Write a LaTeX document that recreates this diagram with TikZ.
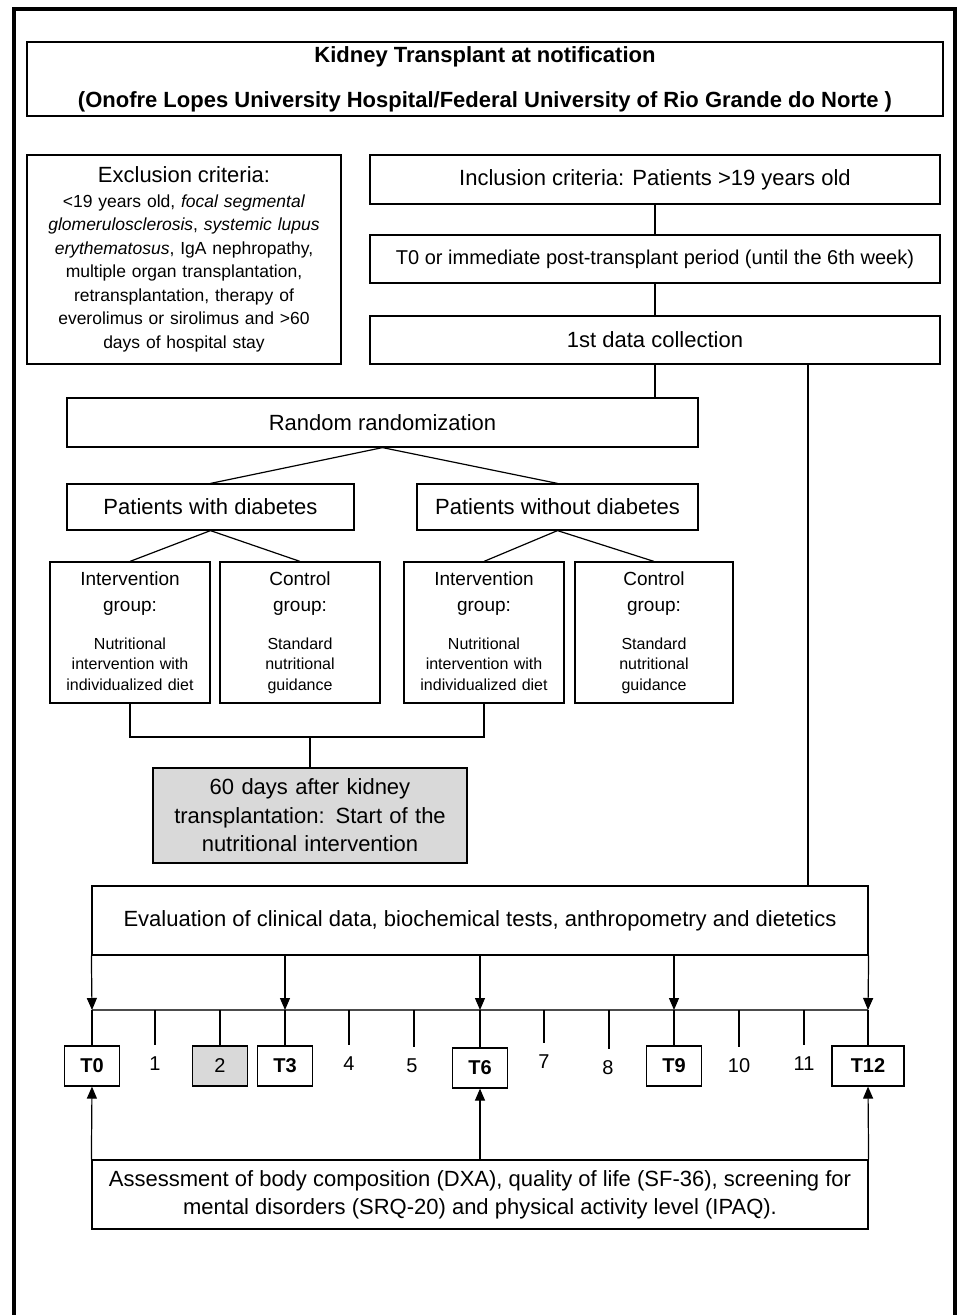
\documentclass[tikz,border=0pt]{standalone}
\usepackage{fontspec}
\setmainfont{Liberation Sans}
\usepackage{tikz}
\usetikzlibrary{arrows.meta}
\definecolor{boxgray}{rgb}{0.85,0.85,0.85}

\begin{document}
\begin{tikzpicture}[x=1pt, y=-1pt,
  blk/.style={draw, rectangle, line width=1.2pt, inner sep=0pt, align=center},
  ln/.style={line width=1.2pt},
  arr/.style={->, >={Triangle[length=12pt,width=10pt]}, line width=1.2pt},
  num/.style={inner sep=0pt, minimum height=38pt, font=\fontsize{20}{22}\selectfont},
  tbox/.style={draw, rectangle, line width=1.2pt, minimum width=55pt, minimum height=40pt, inner sep=0pt, font=\bfseries\fontsize{20}{22}\selectfont}]
\useasboundingbox (0,0) rectangle (959,1315);
\draw [line width=4pt] (14,1315) -- (14,8.5) -- (955,8.5) -- (955,1315);

\node[blk, minimum width=916pt, minimum height=74pt, font=\bfseries\fontsize{22}{24}\selectfont] (title) at (485,79) {Kidney Transplant at notification\\[21pt](Onofre Lopes University Hospital/Federal University of Rio Grande do Norte )};

% left column
\node[blk, minimum width=314pt, minimum height=209pt, text width=310pt, font=\fontsize{17.5}{23.5}\selectfont] (excl) at (184,259.5) {{\fontsize{22}{24}\selectfont Exclusion criteria:}\\[1pt]
<19 years old, \textit{focal segmental}\\ \textit{glomerulosclerosis}, \textit{systemic lupus}\\ \textit{erythematosus}, IgA nephropathy,\\ multiple organ transplantation,\\ retransplantation, therapy of\\ everolimus or sirolimus and >60\\ days of hospital stay};

% right column
\node[blk, minimum width=570pt, minimum height=49pt, font=\fontsize{22}{24}\selectfont] (incl) at (655,179.5) {Inclusion criteria: Patients >19 years old};
\node[blk, minimum width=570pt, minimum height=48pt, font=\fontsize{20}{22}\selectfont] (post) at (655,259) {T0 or immediate post-transplant period (until the 6th week)};
\node[blk, minimum width=570pt, minimum height=48pt, font=\fontsize{22}{24}\selectfont] (coll) at (655,340) {1st data collection};
\draw [ln] (incl) -- (post);
\draw [ln] (post) -- (coll);
\coordinate (side) at (808,364);

% randomization
\node[blk, minimum width=631pt, minimum height=49pt, font=\fontsize{22}{24}\selectfont] (rand) at (382.5,422.5) {Random randomization};
\draw [ln] (coll.south) -- (coll.south |- rand.north);
\node[blk, minimum width=287pt, minimum height=46pt, font=\fontsize{22}{24}\selectfont] (diab) at (210.5,507) {Patients with diabetes};
\node[blk, minimum width=281pt, minimum height=46pt, font=\fontsize{22}{24}\selectfont] (nodiab) at (557.5,507) {Patients without diabetes};
\draw [ln] (rand.south) -- (diab.north);
\draw [ln] (rand.south) -- (nodiab.north);

% groups
\node[blk, minimum width=160pt, minimum height=141pt, text width=156pt, font=\fontsize{16}{20.5}\selectfont] (int1) at (130,632.5) {{\fontsize{19}{24}\selectfont Intervention\\[6pt]group:}\\[17pt]Nutritional\\ intervention with\\ individualized diet\vphantom{g}};
\node[blk, minimum width=160pt, minimum height=141pt, text width=156pt, font=\fontsize{16}{20.5}\selectfont] (ctl1) at (300,632.5) {{\fontsize{19}{24}\selectfont Control\\[6pt]group:}\\[17pt]Standard\\ nutritional\\ guidance};
\node[blk, minimum width=160pt, minimum height=141pt, text width=156pt, font=\fontsize{16}{20.5}\selectfont] (int2) at (484,632.5) {{\fontsize{19}{24}\selectfont Intervention\\[6pt]group:}\\[17pt]Nutritional\\ intervention with\\ individualized diet\vphantom{g}};
\node[blk, minimum width=158pt, minimum height=141pt, text width=154pt, font=\fontsize{16}{20.5}\selectfont] (ctl2) at (654,632.5) {{\fontsize{19}{24}\selectfont Control\\[6pt]group:}\\[17pt]Standard\\ nutritional\\ guidance};
\draw [ln] (diab.south) -- (int1.north);
\draw [ln] (diab.south) -- (ctl1.north);
\draw [ln] (nodiab.south) -- (int2.north);
\draw [ln] (nodiab.south) -- (ctl2.north);

\node[blk, fill=boxgray, minimum width=314pt, minimum height=95pt, text width=310pt, font=\fontsize{22}{28.5}\selectfont] (start) at (310,815.5) {60 days after kidney\\ transplantation: Start of the\\ nutritional intervention};
\coordinate (join) at (310,737);
\draw [ln] (int1.south) |- (join) -| (int2.south);
\draw [ln] (join) -- (start.north);

% evaluation and timeline
\node[blk, minimum width=776pt, minimum height=69pt, font=\fontsize{22}{24}\selectfont] (eval) at (480,920.5) {Evaluation of clinical data, biochemical tests, anthropometry and dietetics};
\draw [ln] (side) -- (side |- eval.north);

\coordinate (t0) at (92,1010);
\coordinate (t1) at (155,1010);
\coordinate (t2) at (220,1010);
\coordinate (t3) at (285,1010);
\coordinate (t4) at (349,1010);
\coordinate (t5) at (414,1010);
\coordinate (t6) at (480,1010);
\coordinate (t7) at (544,1010);
\coordinate (t8) at (609,1010);
\coordinate (t9) at (674,1010);
\coordinate (t10) at (739,1010);
\coordinate (t11) at (804,1010);
\coordinate (t12) at (868,1010);
\draw [line width=2pt, black!70] (t0) -- (t12);

\node[tbox] (b0) at (92,1066) {T0};
\node[num] (n1) at (155,1064) {1};
\node[tbox, fill=boxgray, font=\fontsize{20}{22}\selectfont] (b2) at (220,1066) {2};
\node[tbox] (b3) at (285,1066) {T3};
\node[num] (n4) at (349,1064) {4};
\node[num] (n5) at (412,1066) {5};
\node[tbox] (b6) at (480,1068) {T6};
\node[num] (n7) at (544,1062) {7};
\node[num] (n8) at (608,1068) {8};
\node[tbox] (b9) at (674,1066) {T9};
\node[num] (n10) at (739,1066) {10};
\node[num] (n11) at (804,1064) {11};
\node[tbox, minimum width=72pt] (b12) at (868,1066) {T12};

\draw [ln] (t0) -- (b0);
\draw [ln] (t1) -- (t1 |- n1.north);
\draw [ln] (t2) -- (b2);
\draw [ln] (t3) -- (b3);
\draw [ln] (t4) -- (t4 |- n4.north);
\draw [ln] (t5) -- (t5 |- n5.north);
\draw [ln] (t6) -- (b6);
\draw [ln] (t7) -- (t7 |- n7.north);
\draw [ln] (t8) -- (t8 |- n8.north);
\draw [ln] (t9) -- (b9);
\draw [ln] (t10) -- (t10 |- n10.north);
\draw [ln] (t11) -- (t11 |- n11.north);
\draw [ln] (t12) -- (b12);

\draw [arr] (eval.south west) -- (t0);
\draw [arr] (eval.south -| t3) -- (t3);
\draw [arr] (eval.south) -- (t6);
\draw [arr] (eval.south -| t9) -- (t9);
\draw [arr] (eval.south east) -- (t12);

\node[blk, minimum width=776pt, minimum height=69pt, font=\fontsize{22}{28}\selectfont] (ass) at (480,1194.5) {Assessment of body composition (DXA), quality of life (SF-36), screening for\\ mental disorders (SRQ-20) and physical activity level (IPAQ).};
\draw [arr] (ass.north west) -- (b0.south);
\draw [arr] (ass.north) -- (b6.south);
\draw [arr] (ass.north east) -- (b12.south);
\end{tikzpicture}
\end{document}
